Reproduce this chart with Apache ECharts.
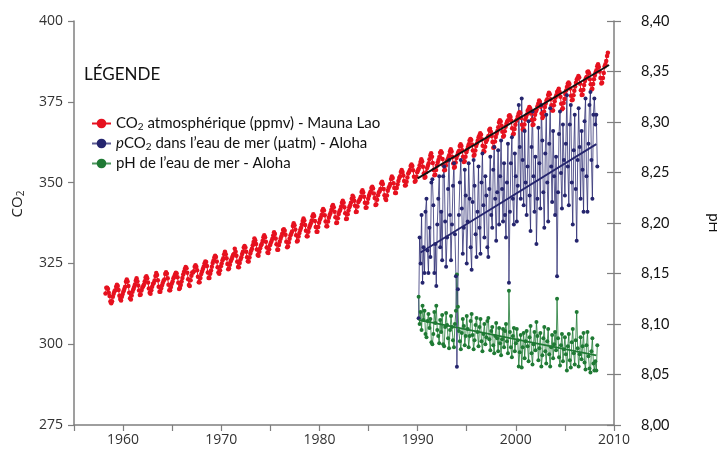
<!DOCTYPE html>
<html lang="fr">
<head>
  <meta charset="UTF-8">
  <title>CO2 atmosphérique et pH de l'eau de mer</title>
  <script src="https://cdn.jsdelivr.net/npm/echarts@6/dist/echarts.min.js"></script>
  <style>
    body { margin: 0; padding: 0; background: #fff; }
    #chart { width: 717px; height: 453px; }
  </style>
</head>
<body>
  <div id="chart"></div>
  <script>
    // CO2 Mauna Loa, mensuel, de mars 1958 à mai 2009 (ppmv)
    var co2StartYear = 1958, co2StartMonth = 3;
    var co2Monthly = [
      315.7, 317.5, 317.5, 317.1, 315.9, 314.9, 313.2, 312.7, 313.3, 314.7,
      315.6, 316.4, 316.7, 317.8, 318.4, 318.0, 316.8, 315.0, 314.0, 313.5, 314.7, 315.5,
      316.4, 317.1, 317.8, 319.3, 320.0, 319.4, 318.0, 315.9, 314.2, 313.8, 315.1, 316.2,
      317.0, 317.7, 318.5, 319.6, 320.4, 319.5, 318.2, 316.6, 315.2, 315.4, 316.6, 317.5,
      317.9, 318.5, 319.5, 320.6, 321.0, 320.4, 319.1, 317.2, 315.9, 315.6, 316.7, 317.8,
      318.6, 318.9, 319.7, 321.1, 322.0, 321.4, 319.8, 317.8, 316.2, 316.2, 317.2, 318.2,
      318.9, 319.6, 320.0, 321.7, 322.3, 321.8, 320.4, 318.4, 316.7, 316.7, 317.7, 318.7,
      319.4, 320.4, 320.9, 321.6, 322.1, 321.9, 320.7, 319.0, 317.1, 317.4, 318.3, 319.4,
      320.5, 321.6, 322.4, 323.3, 323.9, 323.5, 322.1, 320.1, 318.3, 318.0, 319.8, 321.2,
      322.2, 322.2, 322.6, 324.0, 324.4, 324.0, 322.9, 320.9, 319.2, 319.2, 320.5, 321.7,
      322.5, 323.3, 324.0, 325.0, 325.6, 325.4, 324.2, 322.2, 320.5, 320.5, 321.8, 322.8,
      324.0, 325.1, 325.9, 326.8, 327.4, 327.0, 325.6, 323.8, 322.2, 321.8, 322.9, 324.1,
      325.0, 326.0, 326.6, 327.8, 328.6, 327.8, 326.6, 324.8, 323.2, 323.4, 324.6, 325.7,
      326.3, 327.0, 327.6, 327.9, 329.5, 328.6, 327.4, 325.5, 323.9, 323.8, 325.1, 326.2,
      326.9, 327.9, 328.6, 329.9, 330.4, 329.9, 328.6, 326.9, 325.7, 325.6, 326.8, 328.1,
      328.9, 329.5, 330.6, 331.6, 332.7, 332.2, 331.0, 329.3, 327.6, 327.4, 328.6, 329.7,
      330.5, 331.0, 331.9, 333.1, 333.7, 333.1, 331.7, 329.9, 328.4, 328.2, 329.4, 330.6,
      331.3, 331.9, 332.6, 333.6, 334.6, 334.1, 332.7, 330.9, 329.2, 329.2, 330.7, 331.7,
      332.6, 333.4, 334.2, 335.3, 335.6, 335.1, 333.9, 331.7, 330.0, 330.2, 331.5, 332.6,
      333.6, 334.2, 334.9, 336.6, 337.4, 336.8, 335.5, 333.7, 331.8, 332.0, 333.3, 334.4,
      335.3, 336.0, 337.0, 338.1, 338.9, 338.3, 336.9, 335.1, 333.4, 333.4, 334.8, 336.0,
      336.7, 337.4, 338.3, 339.6, 340.2, 339.7, 338.1, 336.3, 334.8, 334.8, 336.3, 337.6,
      338.5, 339.1, 340.0, 341.3, 341.8, 341.4, 339.9, 338.0, 336.5, 336.5, 338.0, 339.1,
      340.0, 340.6, 341.5, 342.6, 343.1, 342.4, 341.0, 339.3, 337.5, 337.6, 339.0, 340.3,
      341.1, 341.7, 342.6, 343.8, 344.4, 343.8, 342.4, 340.5, 338.7, 338.8, 340.2, 341.4,
      342.4, 343.0, 343.8, 345.0, 345.9, 345.5, 344.4, 342.8, 340.9, 341.0, 342.6, 344.0,
      344.5, 344.9, 345.6, 347.1, 347.6, 346.9, 345.6, 343.8, 342.2, 342.3, 343.8, 345.0,
      345.9, 346.6, 347.2, 348.3, 348.7, 348.2, 346.6, 345.2, 343.1, 343.2, 344.7, 346.1,
      346.9, 347.3, 348.0, 349.8, 350.3, 349.6, 348.0, 346.1, 345.1, 344.6, 346.0, 347.5,
      348.3, 348.9, 349.6, 351.1, 351.9, 351.4, 349.8, 348.3, 346.8, 346.8, 348.3, 349.4,
      350.5, 351.4, 352.0, 353.3, 353.9, 353.3, 352.2, 350.5, 349.1, 349.2, 350.3, 351.6,
      352.8, 353.3, 353.9, 355.1, 355.6, 355.1, 353.8, 351.8, 350.3, 350.6, 351.8, 353.2,
      353.8, 354.4, 355.4, 356.4, 357.2, 356.5, 354.9, 352.8, 351.5, 351.7, 353.2, 354.5,
      355.2, 356.0, 357.2, 358.4, 359.1, 358.0, 356.1, 353.9, 352.3, 352.4, 353.9, 355.2,
      356.2, 357.0, 357.9, 359.2, 359.7, 359.2, 357.3, 355.4, 353.8, 353.9, 355.3, 356.5,
      357.1, 357.7, 358.5, 359.6, 360.3, 359.6, 357.9, 355.9, 354.6, 354.8, 356.2, 357.6,
      358.5, 359.3, 359.8, 361.3, 361.9, 361.3, 360.0, 358.0, 356.4, 356.6, 358.0, 359.4,
      360.2, 361.0, 361.9, 363.0, 363.5, 363.2, 361.8, 359.9, 358.3, 358.6, 359.9, 361.3,
      362.1, 363.0, 364.0, 364.6, 365.3, 364.8, 363.4, 361.4, 359.8, 359.6, 361.1, 362.6,
      363.1, 363.9, 364.4, 366.3, 366.7, 365.7, 364.4, 362.6, 360.8, 360.9, 362.7, 364.1,
      365.1, 366.0, 367.1, 368.6, 369.3, 368.9, 367.6, 365.7, 364.2, 364.5, 365.9, 367.3,
      368.2, 368.9, 369.3, 370.6, 370.8, 370.3, 369.1, 366.8, 364.9, 365.1, 366.6, 367.9,
      369.1, 369.6, 370.5, 371.4, 371.8, 371.5, 370.0, 367.9, 366.4, 366.5, 368.0, 369.5,
      370.3, 371.1, 372.2, 372.7, 373.4, 373.0, 371.4, 369.4, 367.8, 368.0, 369.6, 371.0,
      372.0, 372.6, 373.6, 374.5, 375.4, 374.9, 373.5, 371.4, 370.0, 370.5, 372.0, 373.4,
      374.5, 375.4, 375.8, 377.1, 377.8, 377.3, 375.8, 373.9, 372.3, 372.3, 373.9, 375.2,
      376.3, 377.0, 378.0, 378.4, 379.0, 378.0, 376.6, 374.4, 372.7, 373.0, 374.6, 375.9,
      377.4, 378.5, 379.6, 380.6, 381.0, 380.5, 379.1, 376.9, 375.5, 375.6, 377.0, 378.4,
      379.7, 380.9, 381.9, 382.4, 383.0, 382.5, 380.6, 378.6, 377.1, 377.2, 378.7, 380.2,
      381.4, 382.2, 382.7, 384.2, 384.4, 383.8, 382.0, 380.4, 378.8, 379.0, 380.5, 382.0,
      383.1, 384.1, 384.8, 386.0, 386.6, 385.8, 384.4, 382.4, 380.7, 380.9, 382.4, 383.9,
      385.9, 386.6, 387.6, 389.2, 390.2
    ];

    // Station Aloha : environ 10 mesures par an, de 1990.1 à 2008.3
    var alohaStart = 1990.1, alohaStep = 0.1;
    var pco2Aloha = [
      308, 333, 325, 340, 319, 330, 322, 341, 345, 329,
      322, 336, 327, 350, 351, 343, 322, 331, 318, 337,
      345, 352, 330, 341, 326, 352, 355, 338, 324, 333,
      348, 357, 340, 326, 337, 349, 356, 334, 321, 293,
      317, 340, 350, 357, 342, 328, 336, 354, 346, 325,
      338, 356, 345, 330, 323, 344, 357, 349, 334, 327,
      341, 355, 336, 328, 350, 359, 343, 333, 352, 346,
      330, 327, 348, 358, 340, 336, 354, 361, 345, 332,
      347, 360, 337, 352, 363, 348, 338, 356, 340, 333,
      350, 362, 319, 341, 356, 364, 345, 337, 359, 352,
      338, 349, 374, 361, 345, 376, 357, 343, 366, 350,
      340, 355, 369, 346, 335, 361, 372, 352, 341, 358,
      331, 345, 367, 356, 342, 374, 363, 347, 336, 359,
      371, 350, 338, 362, 373, 355, 344, 366, 352, 340,
      358, 321, 347, 365, 372, 353, 342, 368, 357, 346,
      362, 377, 355, 343, 368, 374, 350, 337, 360, 371,
      348, 332, 357, 373, 361, 345, 366, 354, 341, 369,
      376, 352, 341, 362, 374, 378, 357, 345, 371, 376,
      368, 371, 355
    ];
    var phAloha = [
      8.127, 8.100, 8.112, 8.094, 8.118, 8.104, 8.113, 8.090, 8.087, 8.103,
      8.110, 8.096, 8.105, 8.082, 8.080, 8.090, 8.112, 8.101, 8.118, 8.094,
      8.088, 8.081, 8.104, 8.092, 8.109, 8.080, 8.078, 8.097, 8.111, 8.099,
      8.086, 8.076, 8.094, 8.108, 8.097, 8.084, 8.077, 8.100, 8.113, 8.149,
      8.117, 8.093, 8.083, 8.075, 8.091, 8.105, 8.098, 8.079, 8.088, 8.108,
      8.095, 8.077, 8.088, 8.103, 8.110, 8.089, 8.075, 8.084, 8.099, 8.106,
      8.092, 8.078, 8.097, 8.105, 8.083, 8.073, 8.090, 8.100, 8.080, 8.087,
      8.103, 8.106, 8.085, 8.074, 8.093, 8.097, 8.079, 8.071, 8.088, 8.101,
      8.086, 8.073, 8.096, 8.081, 8.069, 8.085, 8.095, 8.077, 8.093, 8.100,
      8.083, 8.071, 8.133, 8.092, 8.077, 8.067, 8.088, 8.096, 8.073, 8.081,
      8.095, 8.084, 8.058, 8.072, 8.089, 8.057, 8.077, 8.091, 8.066, 8.083,
      8.093, 8.078, 8.063, 8.087, 8.098, 8.071, 8.060, 8.080, 8.092, 8.074,
      8.102, 8.088, 8.064, 8.076, 8.091, 8.058, 8.069, 8.086, 8.097, 8.073,
      8.061, 8.083, 8.095, 8.070, 8.058, 8.077, 8.089, 8.066, 8.080, 8.092,
      8.074, 8.125, 8.086, 8.067, 8.059, 8.079, 8.090, 8.063, 8.075, 8.087,
      8.070, 8.054, 8.078, 8.090, 8.064, 8.057, 8.082, 8.095, 8.071, 8.060,
      8.084, 8.112, 8.076, 8.058, 8.070, 8.087, 8.065, 8.078, 8.091, 8.062,
      8.055, 8.079, 8.092, 8.068, 8.056, 8.052, 8.073, 8.086, 8.061, 8.054,
      8.063, 8.054, 8.079
    ];

    // droites de tendance
    var trendCo2 = [[1990.0, 351.3], [2009.5, 386.4]];
    var trendPco2 = [[1990.3, 328.4], [2008.2, 361.9]];
    var trendPh = [[1990.1, 8.104], [2008.2, 8.069]];

    var legendLabels = {
      co2: 'CO{s|2} atmosphérique (ppmv) - Mauna Lao',
      pco2: '{i|p}CO{s|2} dans l\u2019eau de mer (\u00b5atm) - Aloha',
      ph: 'pH de l\u2019eau de mer - Aloha'
    };

    var co2Data = co2Monthly.map(function (v, i) {
      return [co2StartYear + (co2StartMonth - 1 + i + 0.5) / 12, v];
    });
    var pco2Data = pco2Aloha.map(function (v, i) { return [alohaStart + i * alohaStep, v]; });
    var phData = phAloha.map(function (v, i) { return [alohaStart + i * alohaStep, v]; });

    var red = '#e6111f', navy = '#25256e', green = '#1f7a34';
    var axisGray = '#7f7f7f';
    var font = 'Lato, "Noto Sans", sans-serif';
    var tickFont = '"Open Sans", "Noto Sans", sans-serif';

    var chart = echarts.init(document.getElementById('chart'));
    chart.setOption({
      animation: false,
      title: {
        text: 'LÉGENDE',
        left: 79, top: 61,
        textStyle: { fontFamily: font, fontSize: 17, fontWeight: 'normal', color: '#111' }
      },
      legend: {
        data: ['co2', 'pco2', 'ph'],
        orient: 'vertical',
        left: 91, top: 116, padding: 0,
        itemWidth: 19, itemHeight: 12, itemGap: 4.5,
        formatter: function (name) { return legendLabels[name]; },
        textStyle: {
          fontFamily: font, fontSize: 15, color: '#111',
          rich: {
            s: { fontFamily: font, fontSize: 10, color: '#111', padding: [6, 0, 0, 0] },
            i: { fontFamily: font, fontSize: 15, fontStyle: 'italic', color: '#111' }
          }
        }
      },
      grid: { left: 74, right: 103, top: 21, bottom: 28, outerBoundsMode: 'none' },
      xAxis: {
        type: 'value', min: 1955, max: 2010, interval: 5,
        splitLine: { show: false },
        axisLine: { lineStyle: { color: axisGray, width: 1.5 } },
        axisTick: { length: 6, lineStyle: { color: axisGray, width: 1.2 } },
        axisLabel: {
          margin: 8, fontFamily: tickFont, fontSize: 14, color: '#333',
          formatter: function (v) { return v % 10 === 0 ? String(v) : ''; }
        }
      },
      yAxis: [
        {
          type: 'value', min: 275, max: 400, interval: 25,
          name: 'CO{s|2}', nameLocation: 'middle', nameGap: 48,
          nameTextStyle: {
            fontFamily: tickFont, fontSize: 15, color: '#222', padding: [0, 0, 0, 38],
            rich: { s: { fontFamily: tickFont, fontSize: 10, color: '#222', padding: [6, 0, 0, 0] } }
          },
          splitLine: { show: false },
          axisLine: { show: true, lineStyle: { color: axisGray, width: 1.5 } },
          axisTick: { show: true, length: 6, lineStyle: { color: axisGray, width: 1.2 } },
          axisLabel: { margin: 11, fontFamily: tickFont, fontSize: 14, color: '#333' }
        },
        {
          type: 'value', position: 'right', min: 8, max: 8.4, interval: 0.05,
          name: 'pH', nameLocation: 'middle', nameGap: 92, nameRotate: -90,
          nameTextStyle: { fontFamily: font, fontSize: 15, color: '#111' },
          splitLine: { show: false },
          axisLine: { show: true, lineStyle: { color: axisGray, width: 1.5 } },
          axisTick: { show: true, length: 7, lineStyle: { color: axisGray, width: 1.2 } },
          axisLabel: {
            margin: 27, fontFamily: font, fontSize: 14.5, color: '#111',
            formatter: function (v) { return v.toFixed(2).replace('.', ','); }
          }
        },
        {
          // petits traits intérieurs de l'axe pH
          type: 'value', position: 'right', min: 8, max: 8.4, interval: 0.05,
          splitLine: { show: false },
          axisLine: { show: false },
          axisLabel: { show: false },
          axisTick: { show: true, inside: true, length: 7, lineStyle: { color: axisGray, width: 1.2 } }
        }
      ],
      series: [
        {
          name: 'co2', type: 'line', yAxisIndex: 0, data: co2Data,
          symbol: 'circle', symbolSize: 4.5, showSymbol: true,
          itemStyle: { color: red },
          lineStyle: { color: red, width: 1 }
        },
        {
          name: 'ph', type: 'line', yAxisIndex: 1, data: phData,
          symbol: 'circle', symbolSize: 4, showSymbol: true,
          itemStyle: { color: green },
          lineStyle: { color: green, width: 1, opacity: 0.8 }
        },
        {
          name: 'pco2', type: 'line', yAxisIndex: 0, data: pco2Data,
          symbol: 'circle', symbolSize: 4, showSymbol: true,
          itemStyle: { color: navy },
          lineStyle: { color: navy, width: 1, opacity: 0.75 }
        },
        {
          name: 'trendCo2', type: 'line', yAxisIndex: 0, data: trendCo2,
          symbol: 'none', lineStyle: { color: '#111', width: 1.8 }, z: 5
        },
        {
          name: 'trendPco2', type: 'line', yAxisIndex: 0, data: trendPco2,
          symbol: 'none', lineStyle: { color: navy, width: 1.8 }, z: 5
        },
        {
          name: 'trendPh', type: 'line', yAxisIndex: 1, data: trendPh,
          symbol: 'none', lineStyle: { color: green, width: 1.8 }, z: 5
        }
      ]
    });
  </script>
</body>
</html>
